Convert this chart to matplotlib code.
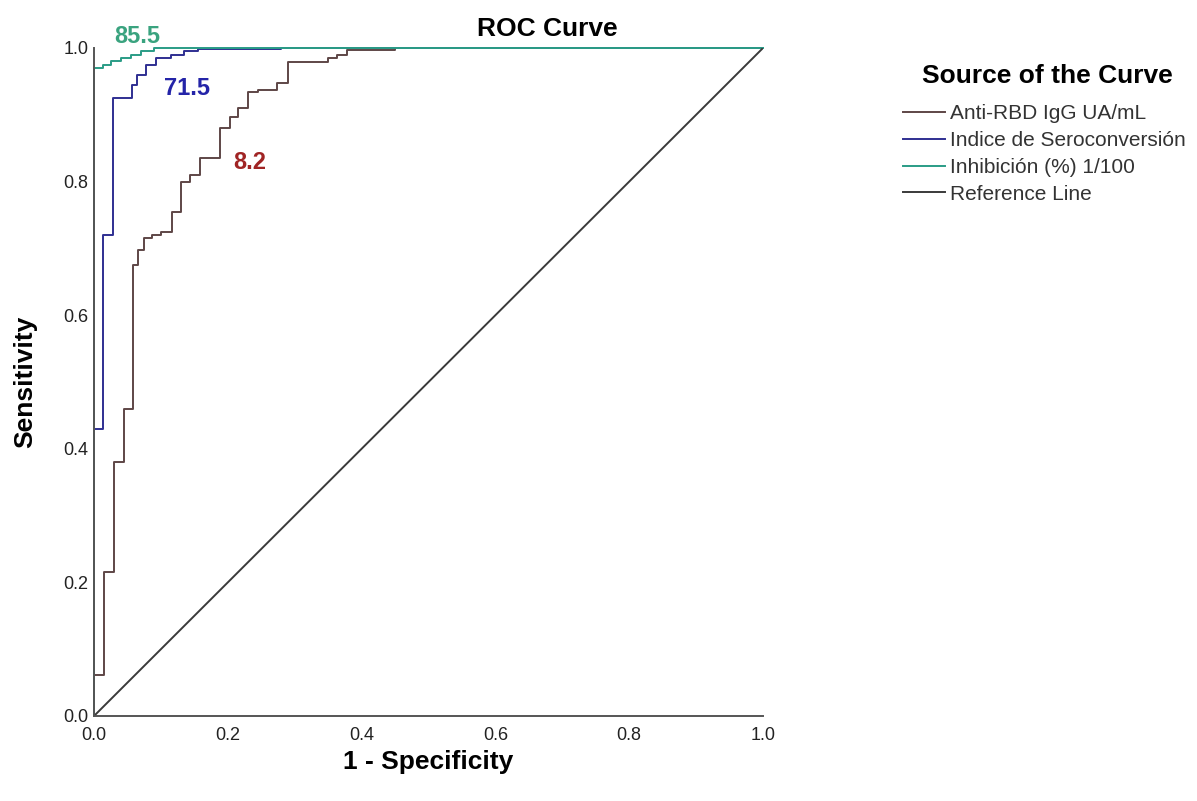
import matplotlib
matplotlib.use("Agg")
import matplotlib.pyplot as plt

plt.rcParams["font.family"] = ["Liberation Sans", "DejaVu Sans"]

# ROC vertices (1 - specificity, sensitivity), curve rises at each x
rbd_fpr = [0, 0, 0.015, 0.03, 0.045, 0.059, 0.066, 0.075, 0.087, 0.10, 0.117, 0.13,
           0.143, 0.158, 0.188, 0.203, 0.215, 0.23, 0.245, 0.273, 0.29, 0.35, 0.363,
           0.378, 0.45, 1.0]
rbd_tpr = [0, 0.061, 0.216, 0.38, 0.46, 0.675, 0.698, 0.715, 0.72, 0.725, 0.755, 0.80,
           0.81, 0.835, 0.88, 0.897, 0.91, 0.934, 0.937, 0.948, 0.979, 0.985, 0.99,
           0.997, 1.0, 1.0]

isc_fpr = [0, 0, 0.014, 0.028, 0.057, 0.065, 0.078, 0.092, 0.115, 0.135, 0.155, 0.28, 1.0]
isc_tpr = [0, 0.43, 0.72, 0.925, 0.945, 0.96, 0.975, 0.985, 0.99, 0.995, 0.998, 1.0, 1.0]

inh_fpr = [0, 0, 0.013, 0.025, 0.04, 0.055, 0.07, 0.09, 1.0]
inh_tpr = [0, 0.97, 0.975, 0.98, 0.985, 0.99, 0.995, 1.0, 1.0]

ref_x = [0, 1]
ref_y = [0, 1]

labels = ["Anti-RBD IgG UA/mL", "Indice de Seroconversión", "Inhibición (%) 1/100", "Reference Line"]
colors = ["#5e4646", "#2f2f92", "#2a9c86", "#3a3a3a"]
ticks = [0.0, 0.2, 0.4, 0.6, 0.8, 1.0]

# cut-off annotations: text, x, y, colour
notes = [("85.5", 0.064, 1.017, "#3aa37f"),
         ("71.5", 0.139, 0.94, "#2424a8"),
         ("8.2", 0.233, 0.829, "#a02424")]

fig = plt.figure(figsize=(11.97, 8.01), dpi=100)
ax = fig.add_axes([94/1197, 85/801, 669/1197, 668/801])

ax.plot(rbd_fpr, rbd_tpr, drawstyle="steps-post", color=colors[0], lw=1.4,
        label=labels[0], clip_on=False)
ax.plot(isc_fpr, isc_tpr, drawstyle="steps-post", color=colors[1], lw=1.4,
        label=labels[1], clip_on=False)
ax.plot(inh_fpr, inh_tpr, drawstyle="steps-post", color=colors[2], lw=1.4,
        label=labels[2], clip_on=False)
ax.plot(ref_x, ref_y, color=colors[3], lw=1.4, label=labels[3])

for txt, x, y, c in notes:
    ax.text(x, y, txt, color=c, fontsize=17, fontweight="bold",
            ha="center", va="center", clip_on=False)

ax.set_xlim(0, 1)
ax.set_ylim(0, 1)
ax.set_xticks(ticks)
ax.set_yticks(ticks)
ax.set_xticklabels([f"{t:.1f}" for t in ticks])
ax.set_yticklabels([f"{t:.1f}" for t in ticks])
ax.tick_params(length=0, labelsize=13, colors="#222222")
ax.tick_params(axis="x", pad=8)
ax.tick_params(axis="y", pad=4)
for s in ["top", "right"]:
    ax.spines[s].set_visible(False)
for s in ["left", "bottom"]:
    ax.spines[s].set_color("#555555")
    ax.spines[s].set_linewidth(1.4)

ax.set_xlabel("1 - Specificity", fontsize=19, fontweight="bold", va="center")
ax.xaxis.set_label_coords(0.5, (716 - 762) / 668)
ax.set_ylabel("Sensitivity", fontsize=19, fontweight="bold", va="center")
ax.yaxis.set_label_coords((25 - 94) / 669, 0.5)
fig.text(547/1197, 1 - 29/801, "ROC Curve", fontsize=19, fontweight="bold",
         ha="center", va="center")
fig.text(1047/1197, 1 - 76/801, "Source of the Curve", fontsize=19, fontweight="bold",
         ha="center", va="center")

leg = ax.legend(loc="upper left", bbox_to_anchor=(903/1197, 1 - 104/801),
                bbox_transform=fig.transFigure, frameon=False, fontsize=15,
                handlelength=2.0, handletextpad=0.25, labelspacing=0.38,
                borderpad=0, borderaxespad=0)
for t in leg.get_texts():
    t.set_color("#333333")

fig.savefig("out.png", dpi=100)
